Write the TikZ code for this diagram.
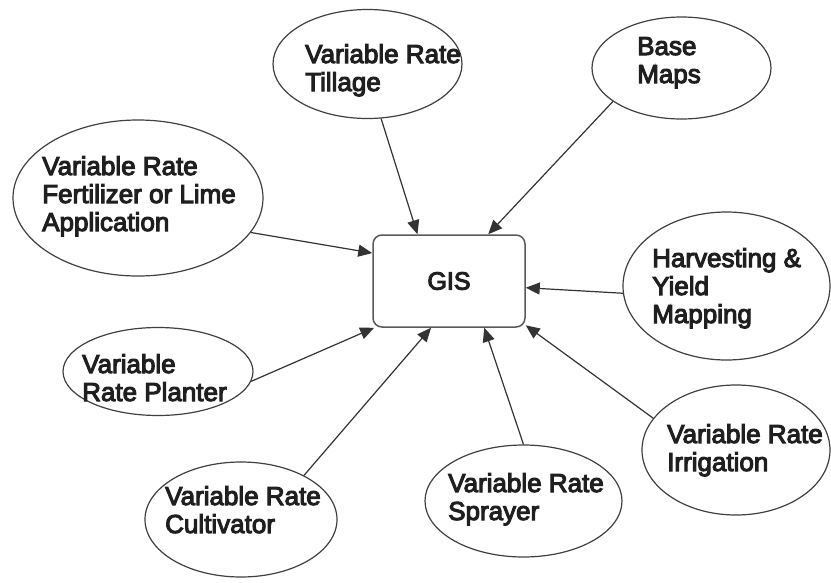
\documentclass[tikz,border=0pt]{standalone}
\usepackage{fontspec}
\setmainfont{Liberation Sans}
\newfontfamily\lblfont{Liberation Sans}[BoldFont=Liberation Sans,BoldFeatures={FakeBold=4}]
\usetikzlibrary{shapes.geometric,arrows.meta}
\begin{document}
\begin{tikzpicture}[x=1pt,y=-1pt,
  bubble/.style={ellipse,draw=black!75,line width=1.2pt,inner sep=0pt,fill=white},
  lbl/.style={anchor=base west,inner sep=0pt,align=left,font=\lblfont\bfseries\fontsize{26}{28}\selectfont,text=black!88},
  conn/.style={draw=black!80,line width=1.2pt,-{Triangle[length=14pt,width=12pt]}}]
\useasboundingbox (0,0) rectangle (831,582);
% ellipses
\node[bubble,minimum width=189pt,minimum height=109pt] (till) at (367.5,64) {};
\node[bubble,minimum width=179pt,minimum height=102pt] (base) at (681.5,68) {};
\node[bubble,minimum width=250pt,minimum height=156pt] (fert) at (138,198) {};
\node[bubble,minimum width=207pt,minimum height=148pt] (harv) at (726.5,286) {};
\node[bubble,minimum width=190pt,minimum height=88pt] (plant) at (158,371.5) {};
\node[bubble,minimum width=192pt,minimum height=115pt] (cult) at (241,519.5) {};
\node[bubble,minimum width=197pt,minimum height=112pt] (spray) at (523.5,501) {};
\node[bubble,minimum width=188pt,minimum height=130pt] (irr) at (736,450) {};
% GIS box
\node[draw=black!65,line width=1.5pt,rounded corners=9pt,minimum width=152pt,minimum height=92pt,
  font=\lblfont\bfseries\fontsize{25}{28}\selectfont,text=black!88] (gis) at (449,281) {GIS};
% labels (anchor = baseline of last line)
\node[lbl] (tillT) at (305,91) {Variable Rate\\Tillage};
\node[lbl] (baseT) at (637,83) {Base\\Maps};
\node[lbl] (fertT) at (42,231) {Variable Rate\\Fertilizer or Lime\\Application};
\node[lbl] (harvT) at (652,323) {Harvesting \&\\Yield\\Mapping};
\node[lbl] (plantT) at (82,401) {Variable\\Rate Planter};
\node[lbl] (cultT) at (165,533) {Variable Rate\\Cultivator};
\node[lbl] (sprayT) at (448,520) {Variable Rate\\Sprayer};
\node[lbl] (irrT) at (667,471) {Variable Rate\\Irrigation};
% connectors
\draw[conn] (till.-76) -- (gis.124);
\draw[conn] (base.-154.6) -- (gis.50);
\draw[conn] (fert.-17.5) -- (gis.160);
\draw[conn] (harv.-176) -- (gis.-5);
\draw[conn] (plant.-6.4) -- (gis.-148);
\draw[conn] (cult.35) -- (gis.-111);
\draw[conn] (spray.90) -- (gis.-53);
\draw[conn] (irr.159) -- (gis.-30);
\end{tikzpicture}
\end{document}
